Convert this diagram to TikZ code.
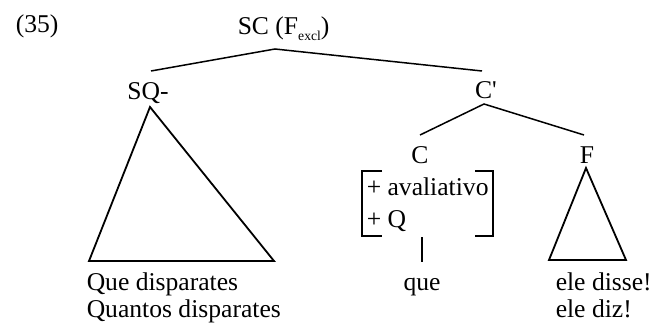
\documentclass[tikz,border=0pt]{standalone}
\usepackage{fontspec}
\setmainfont{Liberation Serif}
\usetikzlibrary{positioning}

\tikzset{
	lbl/.style={inner sep=0pt, anchor=base, font=\fontsize{12.8}{13.5}\selectfont},
	lblw/.style={lbl, anchor=base west},
	br/.style={line width=0.7pt}
}
\newcommand{\subexcl}{\raisebox{-0.45ex}{\fontsize{6.8}{7}\selectfont excl}}

\begin{document}
\begin{tikzpicture}[x=0.5pt, y=-0.5pt, line width=0.75pt]
			\useasboundingbox (0,0) rectangle (653,326);
			% labels of the tree
			\node[lblw] (ex) at (15,33) {(35)};
			\node[lblw] (sc) at (237,35) {SC (F\subexcl)};
			\node[lbl] (sq) at (148,100) {SQ-};
			\node[lbl] (cbar) at (486,98) {C\textquotesingle};
			\node[lbl] (c) at (420,163) {C};
			\node[lbl] (f) at (587,163) {F};
			% joints of the branches
			\coordinate (scfoot) at (275,49);
			\coordinate (sqtop) at (151,71);
			\coordinate (cbartop) at (482,71);
			\coordinate (cbarfoot) at (484,104);
			\coordinate (ctop) at (420,135);
			\coordinate (ftop) at (584,135);
			\draw (sqtop) -- (scfoot) -- (cbartop);
			\draw (ctop) -- (cbarfoot) -- (ftop);
			% triangles
			\draw[line width=0.9pt] (150,107) -- (89,261) -- (274,261) -- cycle;
			\draw[line width=0.9pt] (586,168) -- (549,260) -- (626,260) -- cycle;
			% feature matrix under C
			\draw[br] (382,171) -- (362,171) -- (362,236) -- (382,236);
			\draw[br] (475,171) -- (493,171) -- (493,236) -- (475,236);
			\node[lblw] (feat1) at (366,195) {+ avaliativo};
			\node[lblw] (feat2) at (366,227) {+ Q};
			\coordinate (qtop) at (422,237);
			\coordinate (qfoot) at (422,262);
			\draw[br] (qtop) -- (qfoot);
			% words
			\node[lblw] (w1) at (86,290) {Que disparates};
			\node[lblw] (w2) at (86,317) {Quantos disparates};
			\node[lbl] (que) at (422,290) {que};
			\node[lblw] (w3) at (555,290) {ele disse!};
			\node[lblw] (w4) at (555,317) {ele diz!};
\end{tikzpicture}
\end{document}
